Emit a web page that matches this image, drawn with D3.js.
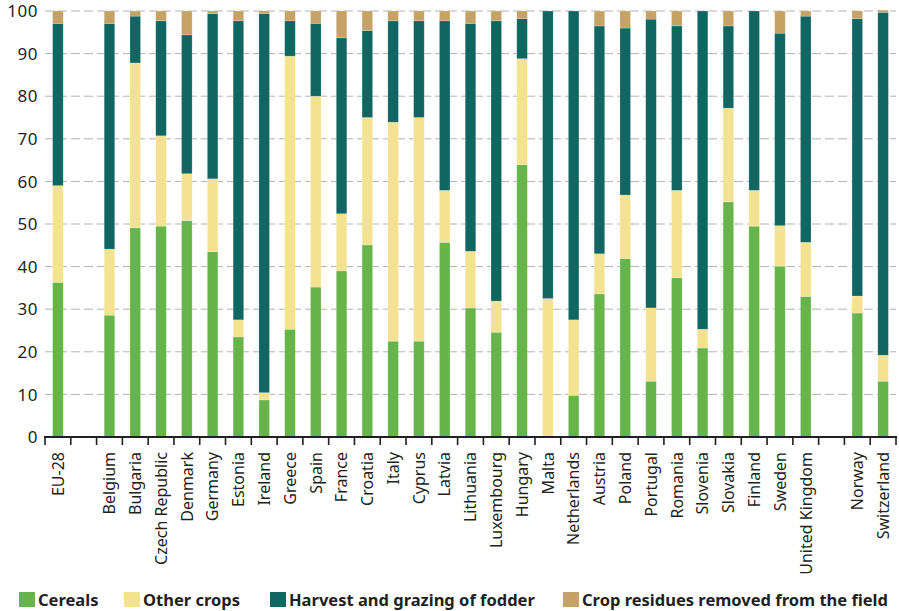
<!DOCTYPE html>
<html>
<head>
<meta charset="utf-8">
<script src="https://cdn.jsdelivr.net/npm/d3@7"></script>
<style>
  body { margin: 0; background: #fff; }
  text { font-family: "Noto Sans", "Open Sans", sans-serif; fill: #231f20; }
</style>
</head>
<body>
<script>
// slots include two empty spacers, drawn as gaps
let slots = ["EU-28", "gap1", "Belgium", "Bulgaria", "Czech Republic", "Denmark", "Germany", "Estonia",
    "Ireland", "Greece", "Spain", "France", "Croatia", "Italy", "Cyprus", "Latvia", "Lithuania",
    "Luxembourg", "Hungary", "Malta", "Netherlands", "Austria", "Poland", "Portugal", "Romania",
    "Slovenia", "Slovakia", "Finland", "Sweden", "United Kingdom", "gap2", "Norway", "Switzerland"];

let countries = slots.filter(function (s) { return s.indexOf("gap") !== 0; });

let cereals = [36.3, 28.6, 49.1, 49.5, 50.8, 43.5, 23.5, 8.7, 25.3, 35.2, 39.0, 45.1, 22.5, 22.5,
    45.7, 30.3, 24.6, 63.9, 0, 9.8, 33.6, 41.9, 13.1, 37.4, 20.9, 55.2, 49.5, 40.1, 33.0, 29.1, 13.1];
let otherCrops = [22.7, 15.5, 38.7, 21.2, 11.0, 17.1, 4.0, 1.7, 64.1, 44.8, 13.4, 29.9, 51.4, 52.5,
    12.2, 13.3, 7.3, 24.9, 32.5, 17.7, 9.4, 14.9, 17.2, 20.5, 4.4, 22.0, 8.4, 9.5, 12.7, 4.0, 6.1];
let fodder = [38.1, 53.0, 11.0, 27.0, 32.6, 38.8, 70.2, 89.0, 8.3, 17.1, 41.3, 20.4, 23.8, 22.7,
    39.8, 53.5, 65.8, 9.4, 67.5, 72.5, 53.5, 39.2, 67.8, 38.6, 74.7, 19.3, 42.1, 45.2, 53.1, 65.1, 80.5];
let residues = [2.9, 2.9, 1.2, 2.3, 5.6, 0.6, 2.3, 0.6, 2.3, 2.9, 6.3, 4.6, 2.3, 2.3,
    2.3, 2.9, 2.3, 1.8, 0, 0, 3.5, 4.0, 1.9, 3.5, 0, 3.5, 0, 5.2, 1.2, 1.8, 0.5];

let seriesKeys = ["Cereals", "Other crops", "Harvest and grazing of fodder", "Crop residues removed from the field"];
let colors = ["#67b44a", "#f3e290", "#116662", "#c5a265"];
let yTicks = [0, 10, 20, 30, 40, 50, 60, 70, 80, 90, 100];

let rows = countries.map(function (c, i) {
    return {
        country: c,
        "Cereals": cereals[i],
        "Other crops": otherCrops[i],
        "Harvest and grazing of fodder": fodder[i],
        "Crop residues removed from the field": residues[i]
    };
});

let w = 899,
    h = 611;
let mLeft = 45, mRight = 896, mTop = 11, mBottom = 437;

let svg = d3.select("body").append("svg")
    .attr("width", w)
    .attr("height", h);

let x = d3.scaleBand()
    .domain(slots)
    .range([mLeft, mRight])
    .paddingInner(0.59)
    .paddingOuter(0.295);

let y = d3.scaleLinear()
    .domain([0, 100])
    .range([mBottom, mTop]);

// dashed gridlines
svg.append("g")
    .selectAll("line")
    .data(yTicks.slice(1))
    .enter().append("line")
    .attr("x1", mLeft)
    .attr("x2", mRight)
    .attr("y1", function (d) { return y(d); })
    .attr("y2", function (d) { return y(d); })
    .attr("stroke", "#b3b3b3")
    .attr("stroke-width", 1)
    .attr("stroke-dasharray", "9,4");

// y labels
svg.append("g")
    .selectAll("text")
    .data(yTicks)
    .enter().append("text")
    .attr("x", 38)
    .attr("y", function (d) { return y(d); })
    .attr("dy", "0.36em")
    .attr("text-anchor", "end")
    .attr("font-size", 17)
    .attr("letter-spacing", 0.5)
    .text(function (d) { return d; });

let stacked = d3.stack().keys(seriesKeys)(rows);

svg.append("g")
    .selectAll("g")
    .data(stacked)
    .enter().append("g")
    .attr("fill", function (d, i) { return colors[i]; })
    .selectAll("rect")
    .data(function (d) { return d; })
    .enter().append("rect")
    .attr("x", function (d) { return x(d.data.country); })
    .attr("width", x.bandwidth())
    .attr("y", function (d) { return y(d[1]); })
    .attr("height", function (d) { return y(d[0]) - y(d[1]); })
    .attr("stroke", "rgba(255,255,255,0.35)")
    .attr("stroke-width", 0.6);

// baseline and slot ticks
let step = x.step();
let tickXs = slots.map(function (s) { return x(s) + x.bandwidth() / 2 - step / 2; });
tickXs.push(tickXs[tickXs.length - 1] + step);

svg.append("line")
    .attr("x1", mLeft - 1)
    .attr("x2", mRight + 1)
    .attr("y1", mBottom)
    .attr("y2", mBottom)
    .attr("stroke", "#231f20")
    .attr("stroke-width", 2.2);

svg.append("g")
    .selectAll("line")
    .data(tickXs)
    .enter().append("line")
    .attr("x1", function (d) { return d; })
    .attr("x2", function (d) { return d; })
    .attr("y1", mBottom)
    .attr("y2", mBottom + 8)
    .attr("stroke", "#231f20")
    .attr("stroke-width", 1.6);

// category labels
svg.append("g")
    .selectAll("text")
    .data(countries)
    .enter().append("text")
    .attr("transform", function (d) {
        return "translate(" + (x(d) + x.bandwidth() / 2) + "," + 452 + ") rotate(-90)";
    })
    .attr("dy", "0.36em")
    .attr("text-anchor", "end")
    .attr("font-size", 16)
    .text(function (d) { return d; });

// legend
let legendX = [19, 124, 270, 563];
let legend = svg.append("g")
    .selectAll("g")
    .data(seriesKeys)
    .enter().append("g")
    .attr("transform", function (d, i) { return "translate(" + legendX[i] + ",592)"; });

legend.append("rect")
    .attr("width", 16)
    .attr("height", 15)
    .attr("fill", function (d, i) { return colors[i]; });

legend.append("text")
    .attr("x", 19)
    .attr("y", 8)
    .attr("dy", "0.36em")
    .attr("font-size", 16.5)
    .attr("font-weight", "bold")
    .text(function (d) { return d; });
</script>
</body>
</html>
